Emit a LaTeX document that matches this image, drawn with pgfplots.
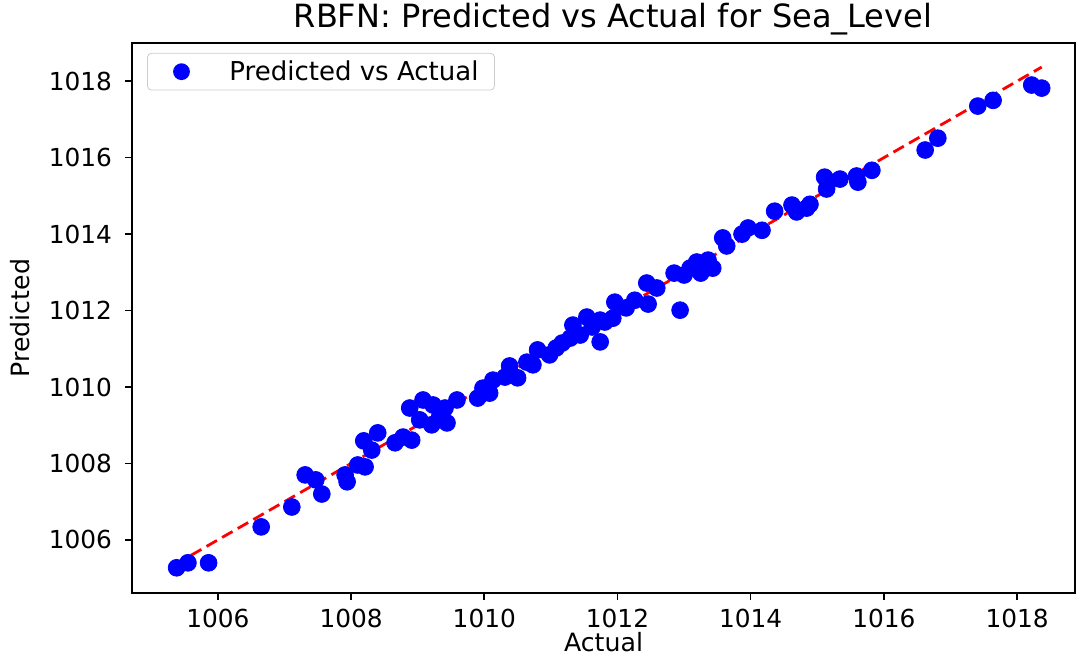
\documentclass[border=0pt]{standalone}
\usepackage{fontspec}
\setmainfont{DejaVu Sans}
\usepackage{pgfplots}
\pgfplotsset{compat=1.18}
\definecolor{mplblue}{RGB}{0,0,255}
\definecolor{mplred}{RGB}{255,0,0}
\begin{document}
\begin{tikzpicture}
\useasboundingbox (-66pt,-31pt) rectangle (472pt,296.5pt);
\begin{axis}[
  scale only axis,
  width=471.5pt, height=275pt,
  xmin=1004.71, xmax=1018.87,
  ymin=1004.61, ymax=1019.0,
  xtick={1006,1008,...,1018},
  ytick={1006,1008,...,1018},
  tick align=outside,
  major tick length=3.5pt,
  xtick pos=bottom, ytick pos=left,
  axis line style={black, line width=0.8pt},
  tick style={black, line width=0.8pt},
  /pgf/number format/assume math mode=true,
  /pgf/number format/1000 sep={},
  ticklabel style={font=\fontsize{12.4}{14}\selectfont},
  xticklabel style={yshift=-1pt},
  yticklabel style={xshift=-3pt},
  xlabel={Actual},
  ylabel={Predicted},
  xlabel style={font=\fontsize{12.6}{14}\selectfont, at={(axis description cs:0.5,-0.106)}, anchor=base},
  ylabel style={font=\fontsize{12.6}{14}\selectfont, at={(axis description cs:-0.119,0.5)}, anchor=center, rotate=0},
  legend style={at={(0.016,0.982)}, anchor=north west, draw=black!20, rounded corners=2pt,
    font=\fontsize{13}{15}\selectfont, inner xsep=6pt, inner ysep=1.5pt},
  legend cell align=left,
  legend image code/.code={\path[draw=none,fill=none] (0pt,0pt) -- (33pt,0pt); \fill[mplblue, draw=none] (11pt,0pt) circle (4.2pt);},
  clip=false,
]
\addplot[only marks, mark=*, mark size=4.2pt, mplblue, mark options={draw=mplblue, fill=mplblue}] coordinates {
(1005.38,1005.27) (1005.55,1005.40) (1005.86,1005.40) (1006.65,1006.34)
(1007.11,1006.86) (1007.31,1007.70) (1007.47,1007.57) (1007.56,1007.20)
(1007.91,1007.70) (1007.94,1007.52) (1008.10,1007.96) (1008.21,1007.91)
(1008.19,1008.59) (1008.31,1008.35) (1008.40,1008.80) (1008.66,1008.54)
(1008.78,1008.69) (1008.91,1008.61) (1008.88,1009.45) (1009.08,1009.66)
(1009.23,1009.53) (1009.03,1009.14) (1009.21,1009.01) (1009.33,1009.22)
(1009.44,1009.06) (1009.41,1009.45) (1009.59,1009.66) (1009.90,1009.71)
(1009.98,1009.97) (1010.08,1009.84) (1010.13,1010.18) (1010.31,1010.26)
(1010.38,1010.55) (1010.50,1010.24) (1010.64,1010.65) (1010.73,1010.58)
(1010.80,1010.97) (1010.98,1010.84) (1011.08,1011.02) (1011.17,1011.15)
(1011.29,1011.28) (1011.33,1011.62) (1011.44,1011.36) (1011.54,1011.83)
(1011.62,1011.57) (1011.74,1011.18) (1011.74,1011.75) (1011.81,1011.70)
(1011.96,1012.22) (1011.93,1011.80) (1012.13,1012.07) (1012.26,1012.27)
(1012.44,1012.72) (1012.46,1012.17) (1012.59,1012.59) (1012.85,1012.98)
(1012.94,1012.01) (1013.00,1012.93) (1013.09,1013.11) (1013.19,1013.27)
(1013.25,1012.98) (1013.36,1013.32) (1013.43,1013.11) (1013.58,1013.90)
(1013.64,1013.69) (1013.87,1014.00) (1013.96,1014.16) (1014.17,1014.10)
(1014.36,1014.60) (1014.62,1014.76) (1014.69,1014.58) (1014.84,1014.68)
(1014.89,1014.78) (1015.11,1015.49) (1015.14,1015.18) (1015.34,1015.44)
(1015.59,1015.52) (1015.61,1015.36) (1015.82,1015.67) (1016.62,1016.20)
(1016.81,1016.51) (1017.41,1017.35) (1017.64,1017.50) (1018.22,1017.90)
(1018.37,1017.82)
};
\addlegendentry{Predicted vs Actual}
\addplot[mplred, line width=1.4pt, dash pattern=on 6pt off 3pt, forget plot] coordinates {
(1005.36,1005.36) (1018.37,1018.37)
};
\node[font=\fontsize{16}{18}\selectfont, anchor=base, inner sep=0pt] at (axis description cs:0.51,1) [yshift=7.8pt] {RBFN: Predicted vs Actual for Sea\_Level};
\end{axis}
\end{tikzpicture}
\end{document}
